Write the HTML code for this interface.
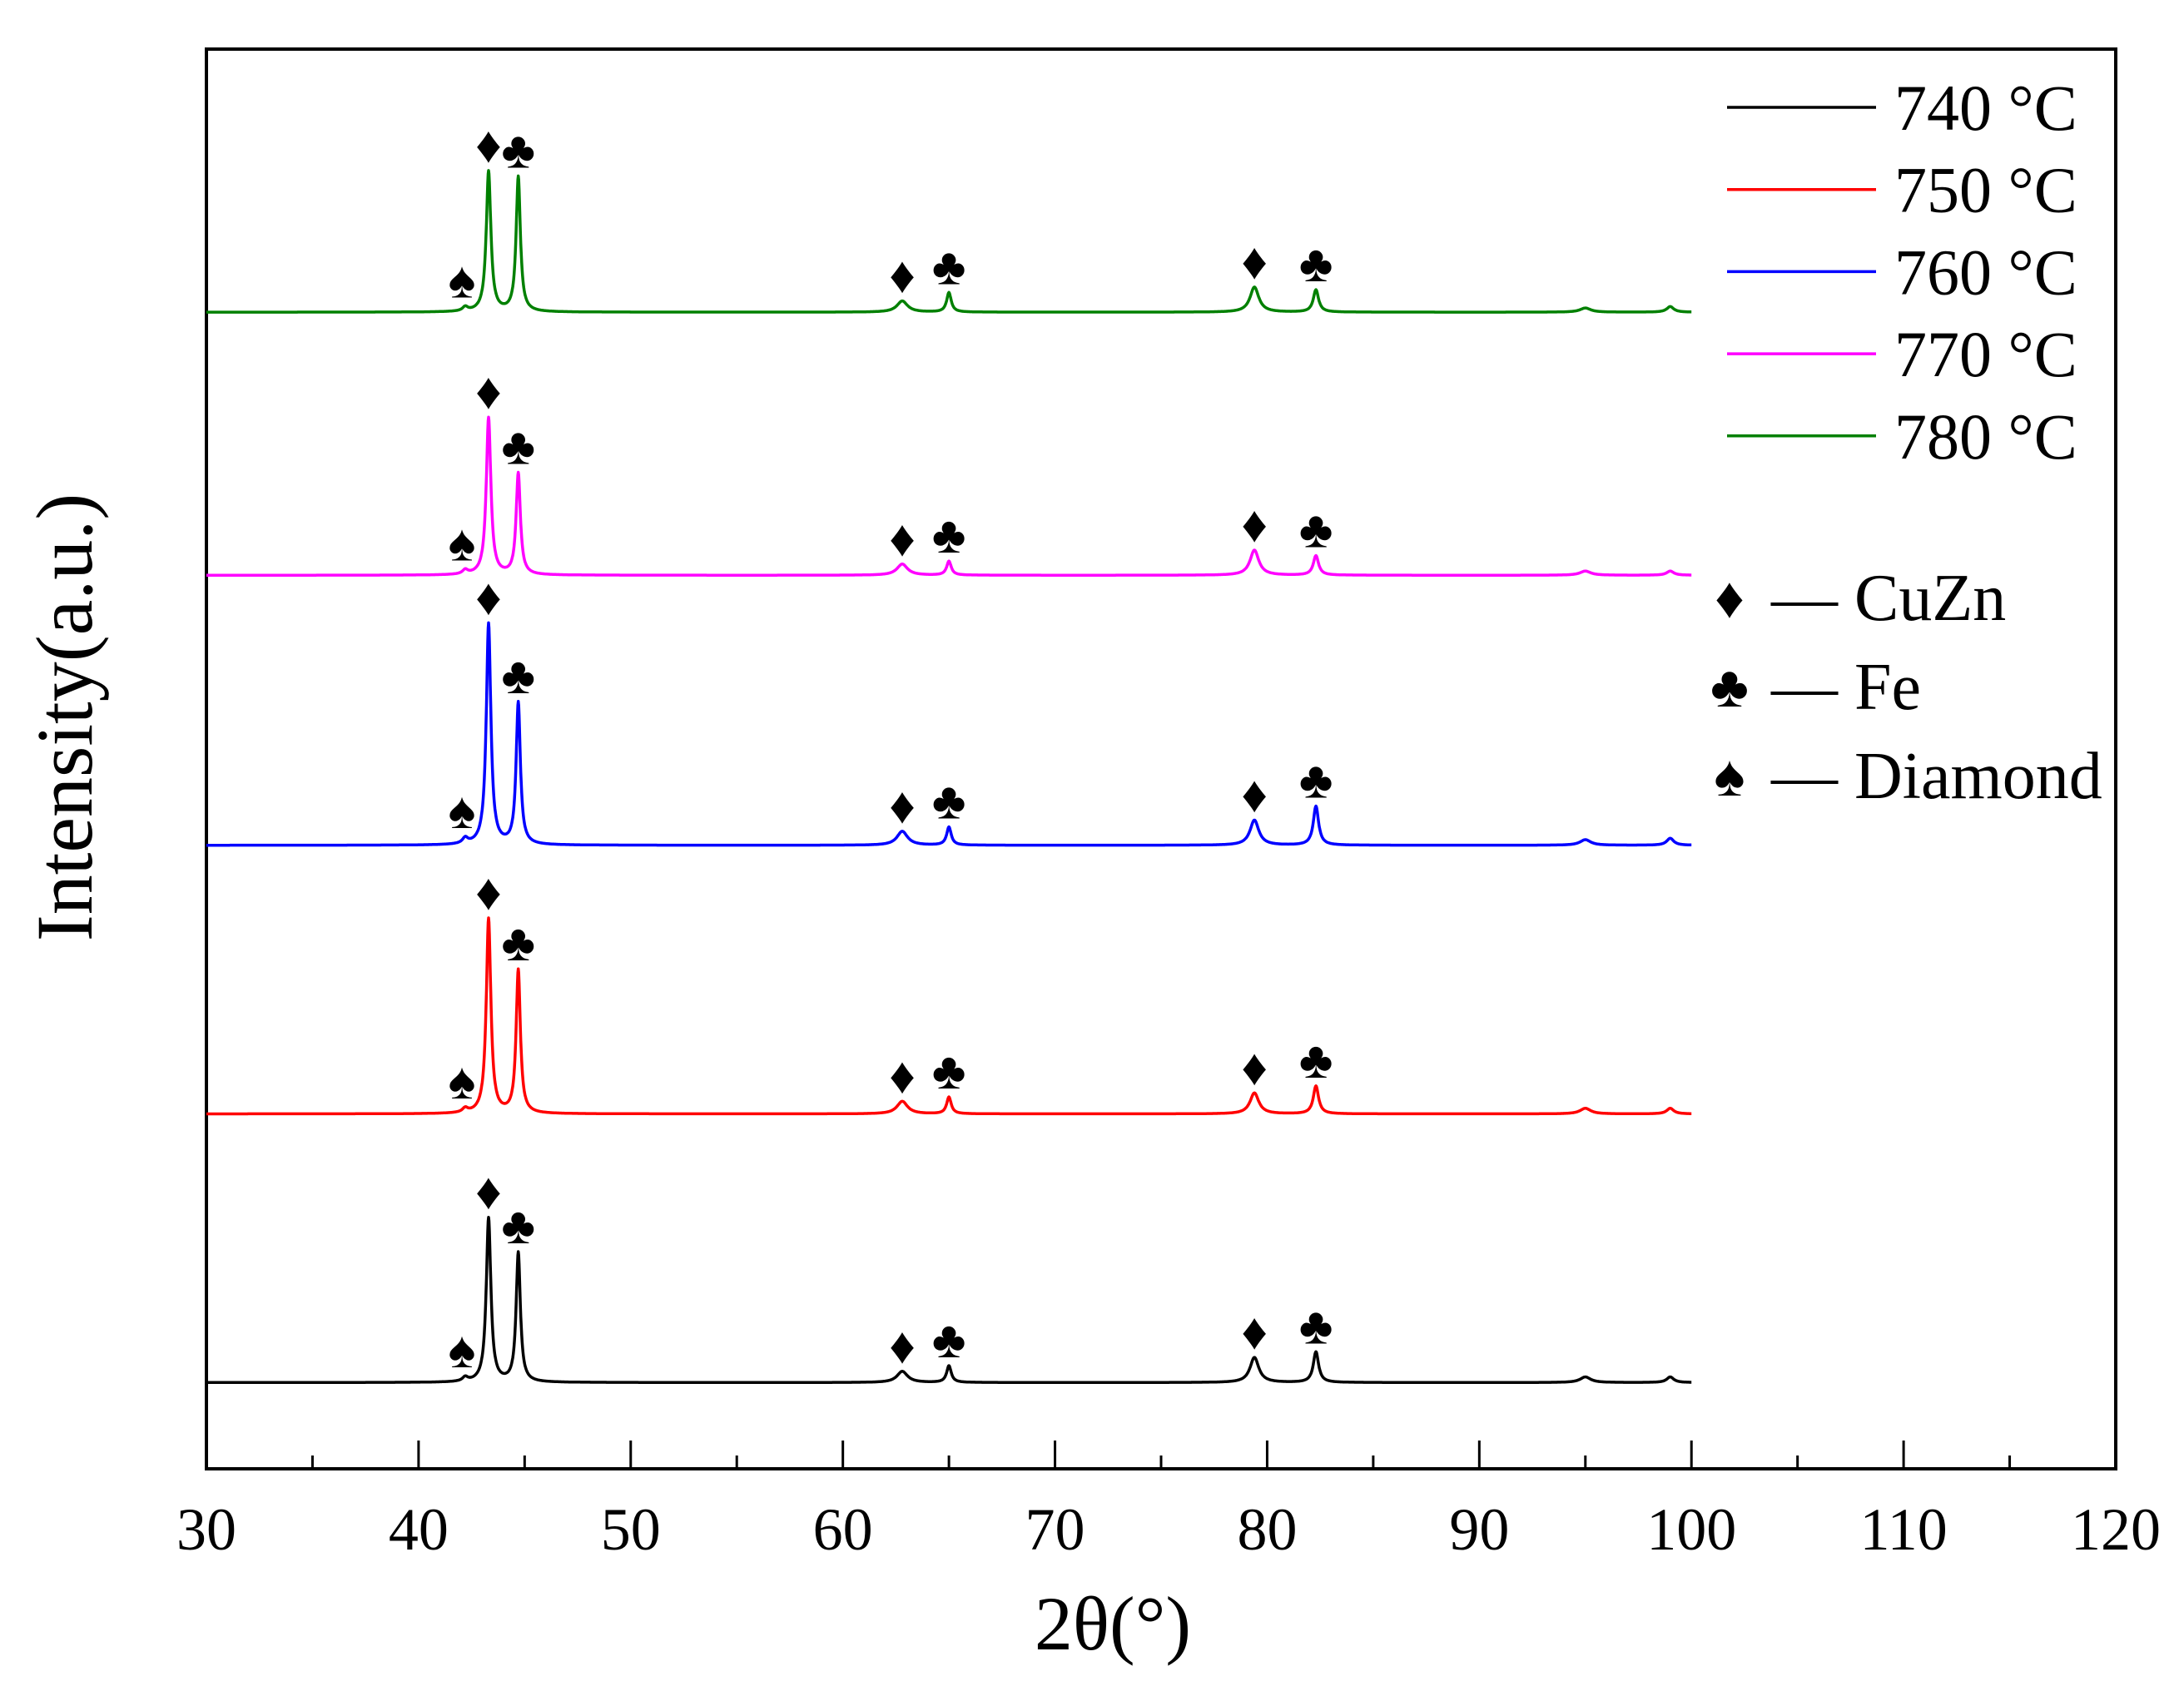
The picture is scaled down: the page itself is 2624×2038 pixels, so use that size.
<!DOCTYPE html>
<html><head><meta charset="utf-8"><style>
html,body{margin:0;padding:0;background:#fff}
svg{display:block}
text{font-family:"Liberation Serif",serif;fill:#000}
</style></head><body>
<svg id="chart" width="2624" height="2038" viewBox="0 0 2624 2038" xmlns="http://www.w3.org/2000/svg">
<g id="plot"></g>
</svg>
<script>
const seriesNames = ["740 °C","750 °C","760 °C","770 °C","780 °C"];
const seriesColors = ["#000000","#ff0000","#0000ff","#ff00ff","#008000"];
const baselines = [62, 255, 448, 642, 831];
const peakPositions = [42.2, 43.3, 44.7, 62.8, 65.0, 79.4, 82.3, 95.0, 99.0];
const peakWidths = [0.15, 0.13, 0.12, 0.3, 0.13, 0.25, 0.15, 0.3, 0.2];
const heights740 = [3,118,93,8,12,18,22,4,4];
const heights750 = [3,140,103,9,12,15,20,4,4];
const heights760 = [4,159,102,10,13,18,28,4,5];
const heights770 = [3,113,73,8,10,18,14,3,3];
const heights780 = [3,101,97,8,14,18,16,3,4];
const seriesHeights = [heights740, heights750, heights760, heights770, heights780];
const markerPeaks = [0,1,2,3,4,5,6];
const markerSymbols = ["♠","♦","♣","♦","♣","♦","♣"];
const xTicks = [30,40,50,60,70,80,90,100,110,120];
const xMin = 30, xMax = 120, yMin = 0, yMax = 1020;

const L=248,R=2542,T=59,B=1765;
const sx = v => L + (v-xMin)/(xMax-xMin)*(R-L);
const sy = v => B - (v-yMin)/(yMax-yMin)*(B-T);
const NS="http://www.w3.org/2000/svg";
const plot=document.getElementById('plot');
function mk(tag,attrs,parent){const e=document.createElementNS(NS,tag);for(const k in attrs)e.setAttribute(k,attrs[k]);(parent||plot).appendChild(e);return e;}

const frame=mk('rect',{x:L,y:T,width:R-L,height:B-T,fill:'none',stroke:'#000','stroke-width':4});



for(let v=35; v<120; v+=5){
  const major = v%10===0;
  const t=mk('line',{x1:sx(v),x2:sx(v),y1:B,y2:B-(major?34:16),stroke:'#000','stroke-width':3});
  
  
}
xTicks.forEach(v=>{
  const t=mk('text',{x:sx(v),y:1862,'font-size':72,'text-anchor':'middle'});
  t.textContent=v;
  
  
});
const xt=mk('text',{x:1337,y:1982,'font-size':92,'text-anchor':'middle'});
xt.textContent='2θ(°)';


const yt=mk('text',{x:0,y:0,'font-size':96,'text-anchor':'middle',transform:'translate(110,862) rotate(-90)'});
yt.textContent='Intensity(a.u.)';



function profile(si,x){
  let y=baselines[si];
  const h=seriesHeights[si];
  for(let k=0;k<peakPositions.length;k++){
    const d=(x-peakPositions[k])/peakWidths[k];
    y+=h[k]/(1+d*d);
  }
  return y;
}
seriesNames.forEach((name,si)=>{
  let d='';
  for(let x=30; x<=100.0001; x+=0.02){
    d+=(d?'L':'M')+sx(x).toFixed(1)+','+sy(profile(si,x)).toFixed(1);
  }
  const p=mk('path',{d:d,fill:'none',stroke:seriesColors[si],'stroke-width':3.5,'stroke-linejoin':'round'});
  
  
  markerPeaks.forEach((k,mi)=>{
    const x=peakPositions[k];
    const top=sy(profile(si,x));
    const m=mk('text',{x:sx(x)+(k===0?-4:0),y:top-10,'font-size':62,'text-anchor':'middle'});
    m.textContent=markerSymbols[mi];
    
    
  });
  const ly=129+si*98.7;
  const ll=mk('line',{x1:2075,x2:2254,y1:ly,y2:ly,stroke:seriesColors[si],'stroke-width':3.5});
  
  
  const lt=mk('text',{x:2276,y:ly+27,'font-size':78});
  lt.textContent=name;
  
  
});
const phaseSymbols=["♦","♣","♠"];
const phaseNames=["CuZn","Fe","Diamond"];
phaseNames.forEach((n,i)=>{
  const y=718+i*107;
  const s=mk('text',{x:2078,y:y+24,'font-size':70,'text-anchor':'middle'});
  s.textContent=phaseSymbols[i];
  
  
  const t=mk('text',{x:2128,y:y+27,'font-size':80});
  t.textContent='— '+n;
  
  
});
</script>
</body></html>
